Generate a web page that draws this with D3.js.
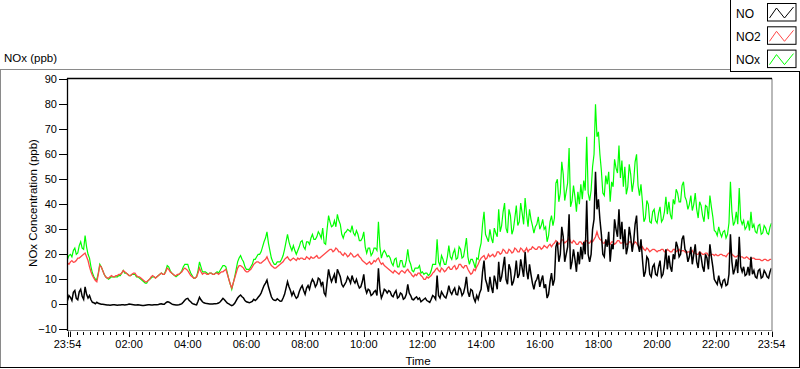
<!DOCTYPE html>
<html><head><meta charset="utf-8">
<script src="https://cdn.jsdelivr.net/npm/d3@7"></script>
<style>
html,body{margin:0;padding:0;background:#fff;}
svg{display:block;font-family:"Liberation Sans",Arial,sans-serif;}
</style></head><body>
<svg id="chart" width="800" height="369"></svg>
<script>
// ---- data ----
const startTime = new Date(2000, 0, 1, 23, 54);
const stepMinutes = 3;
const seriesNames = ["NO", "NO2", "NOx"];
const yTicks = [-10, 0, 10, 20, 30, 40, 50, 60, 70, 80, 90];
const yTitle = "NOx Concentration (ppb)";
const xTitle = "Time";
const chartTitle = "NOx (ppb)";

const NO = [
1.5,3.5,2.8,1.5,4.8,5.5,2.4,1.8,5.0,6.0,3.2,2.0,7.0,4.0,2.5,3.5,1.8,0.8,0.6,0.2,
0.8,0.4,0.2,0.0,0.0,-0.1,-0.2,-0.3,-0.3,-0.4,-0.3,-0.2,-0.2,-0.3,-0.4,-0.3,-0.3,-0.2,-0.2,-0.3,
-0.2,-0.1,0.1,0.0,-0.1,-0.2,-0.3,-0.3,-0.2,-0.3,-0.4,-0.5,-0.5,-0.4,-0.3,-0.2,-0.2,-0.3,-0.3,-0.2,
-0.2,-0.2,-0.1,0.1,0.2,0.0,0.0,0.6,1.0,0.9,0.6,0.2,-0.1,-0.2,-0.3,-0.3,-0.2,0.0,0.3,0.9,
1.6,2.2,2.4,1.5,1.0,0.4,0.1,-0.1,-0.2,1.2,2.8,1.8,1.0,0.6,0.4,0.3,0.2,0.1,0.1,0.1,
0.2,0.2,0.3,0.5,0.9,1.6,2.4,1.8,1.1,0.5,0.2,-0.2,-0.5,-0.2,0.4,1.5,2.5,3.2,3.7,3.0,
2.5,1.5,1.0,0.8,0.6,0.9,1.2,2.0,1.5,2.0,2.8,3.5,4.5,6.0,7.5,8.5,9.7,7.0,5.0,3.0,
2.0,1.6,1.5,2.2,1.7,1.2,1.3,2.5,4.0,6.5,9.0,7.0,5.5,3.5,5.0,3.5,2.4,3.0,5.0,6.5,
7.5,5.5,4.0,6.5,7.5,6.0,8.5,10.0,9.0,7.0,8.0,10.5,10.0,7.5,9.0,4.5,3.5,9.0,14.0,11.0,
9.0,10.5,12.0,8.5,14.0,12.5,11.0,8.0,7.0,8.0,9.0,11.0,10.0,8.5,11.5,9.5,8.5,10.0,8.0,6.5,
7.0,9.0,12.0,6.5,4.5,6.0,5.5,3.5,4.0,5.0,5.5,3.5,14.4,6.0,2.5,4.0,6.0,5.5,4.5,5.5,
5.0,3.5,3.0,4.5,5.5,2.5,3.0,4.5,4.0,2.0,2.5,4.0,8.0,4.5,3.5,2.0,1.8,2.5,3.0,2.0,
2.5,1.0,1.5,2.0,2.5,1.5,1.2,0.8,2.0,3.5,3.0,2.0,11.5,3.5,2.5,5.0,4.0,3.0,2.5,4.5,
7.5,5.0,4.0,5.5,6.5,4.0,3.8,7.0,6.0,3.5,4.5,7.0,11.0,5.0,3.0,6.0,5.5,2.5,1.0,3.5,
2.0,4.5,6.0,13.0,17.5,10.0,8.0,5.0,11.0,7.0,4.5,11.5,9.0,6.0,17.0,9.0,11.0,15.0,19.0,10.0,
8.0,16.0,14.0,7.5,9.0,12.0,17.5,10.5,12.0,18.0,14.5,11.0,21.0,13.5,10.0,16.0,12.0,8.5,6.0,9.0,
10.0,12.0,7.0,9.5,11.5,6.5,8.0,2.5,4.0,9.0,12.5,7.5,10.0,23.0,25.0,17.0,20.0,31.0,27.0,17.0,
20.0,23.0,36.0,14.0,17.0,22.0,18.0,13.0,21.0,16.0,23.0,18.0,25.0,20.0,41.5,20.0,17.0,20.0,30.0,34.0,
53.0,38.0,42.0,34.0,28.0,20.0,19.0,26.0,23.0,29.0,17.0,24.0,22.0,34.0,30.0,27.0,38.0,26.0,33.0,22.0,
30.0,20.0,23.0,31.0,27.0,21.0,25.0,32.0,35.5,24.0,21.0,26.0,18.0,11.0,13.0,19.0,18.0,12.0,11.0,15.0,
16.0,12.0,11.5,15.0,17.5,11.0,12.0,16.0,22.0,14.0,19.5,15.0,13.0,20.0,18.0,25.0,23.0,19.0,20.0,26.0,
27.5,22.0,21.0,17.0,19.0,23.0,16.0,20.0,24.0,17.0,14.5,21.0,19.0,15.0,13.0,20.0,18.5,14.0,24.0,19.0,
15.0,10.0,9.0,8.0,11.5,8.5,7.0,9.5,10.0,7.5,8.0,12.0,28.0,17.0,12.0,14.0,18.0,12.5,27.0,15.0,
13.0,15.0,11.5,12.0,15.0,11.5,19.0,12.0,13.5,11.0,10.5,13.5,14.0,10.5,11.0,13.5,12.5,11.0,10.5,13.0,14.5
];

const NO2 = [
16.5,16.0,17.0,17.5,16.8,17.0,17.5,18.5,18.5,19.0,19.5,20.0,20.5,19.0,17.5,15.0,13.0,11.5,10.5,9.5,
9.0,12.0,15.5,15.0,13.5,12.0,11.0,10.5,10.5,11.0,11.5,11.0,11.0,11.5,11.5,12.0,12.0,12.5,13.5,13.0,
12.5,12.0,11.5,11.5,12.0,12.5,12.5,11.5,11.0,11.0,10.5,10.0,9.5,9.0,9.0,9.5,10.0,11.0,11.5,11.0,
10.5,11.0,11.5,12.0,12.5,12.0,12.0,13.0,14.5,14.0,13.0,12.5,12.0,11.5,11.5,12.0,12.0,12.5,13.0,14.0,
14.5,14.0,13.5,12.5,11.5,11.0,10.5,10.5,11.0,12.5,14.5,13.0,12.0,12.5,12.5,12.0,12.0,12.5,12.5,12.0,
12.0,12.5,12.5,12.0,12.5,13.0,13.0,13.5,14.0,12.0,10.0,8.0,6.5,8.5,10.5,12.5,14.5,15.5,15.5,15.0,
14.5,13.5,13.0,13.0,13.5,14.0,15.0,16.0,16.5,17.0,17.0,16.5,16.5,17.0,17.5,18.0,19.0,17.5,16.5,15.5,
15.0,14.5,14.5,15.0,15.5,16.0,16.5,17.0,18.0,18.5,19.0,18.0,17.5,18.0,18.5,18.0,17.5,18.5,18.0,18.5,
18.5,18.0,18.0,19.0,18.5,18.0,19.0,18.5,18.5,19.0,19.5,18.5,18.5,19.0,19.5,20.0,20.5,21.0,21.5,22.0,
22.0,21.0,21.5,22.5,22.0,21.0,21.0,20.0,19.5,20.5,20.0,19.0,19.5,20.5,20.0,19.0,19.0,19.5,20.0,19.0,
18.5,17.5,17.0,16.5,16.0,16.5,17.0,16.0,16.5,17.5,17.0,18.0,18.5,17.0,16.0,16.5,15.5,15.0,14.5,14.0,
13.5,13.0,12.5,13.5,13.0,12.5,12.0,13.0,13.5,13.0,12.5,13.5,14.0,13.0,12.5,11.5,11.0,12.0,11.5,12.5,
12.5,11.5,11.0,10.0,10.0,11.0,10.5,11.0,11.5,12.5,13.0,14.0,14.5,13.5,13.0,14.5,14.0,13.0,13.5,14.5,
15.0,14.0,14.0,15.0,15.5,14.0,14.5,16.0,16.0,15.0,14.5,15.5,15.5,14.0,13.0,12.0,12.5,14.0,13.5,15.0,
16.0,17.5,18.5,19.0,19.5,18.0,18.5,20.0,19.0,19.5,20.0,19.0,19.5,21.0,21.0,20.0,20.5,22.0,21.5,20.5,
20.5,22.0,21.5,20.5,21.0,22.5,22.0,21.0,21.0,22.5,22.0,21.0,21.5,22.5,21.0,22.0,22.0,23.0,22.5,22.0,
22.0,23.0,23.0,22.0,22.5,23.5,23.0,22.5,23.5,24.0,23.0,24.0,24.5,25.5,25.0,24.0,24.5,26.0,25.5,24.5,
25.0,25.5,26.5,25.0,24.5,25.5,25.0,24.0,24.0,25.0,25.0,24.0,24.5,25.5,25.5,24.5,24.5,25.5,25.0,26.0,
27.0,29.0,27.0,26.0,25.5,24.5,24.5,25.5,25.0,24.0,24.0,25.0,25.0,24.0,24.5,25.5,25.5,24.5,24.5,25.0,
25.0,24.0,24.0,25.0,25.0,24.0,24.0,25.0,24.5,23.5,22.5,22.0,23.0,22.0,21.5,22.5,22.0,21.0,21.5,22.0,
22.0,21.5,21.0,21.5,21.5,22.0,22.0,21.0,21.0,22.0,21.5,21.0,21.0,22.0,22.0,21.0,21.5,22.0,21.0,21.5,
21.5,21.0,20.5,21.0,21.0,20.5,21.5,20.5,20.5,20.0,20.0,21.0,20.5,20.0,20.0,20.5,20.5,19.5,19.5,20.0,
20.0,19.5,20.0,19.5,19.5,20.0,20.0,19.5,19.5,19.0,20.0,20.5,21.0,20.0,19.5,19.0,19.0,19.5,19.5,19.0,
19.0,18.5,18.5,19.0,18.5,18.0,18.0,18.5,18.5,18.0,18.0,18.0,18.0,17.5,17.5,18.0,18.0,17.5,17.5,18.0,18.0
];

const NOx = [
18.0,19.5,20.0,19.0,21.5,22.5,20.0,20.5,23.5,25.0,22.5,22.0,27.5,23.0,20.0,18.5,15.0,12.5,11.0,10.0,
10.0,12.5,16.0,15.0,13.5,12.0,11.0,10.5,10.0,10.5,11.0,11.0,11.0,11.0,11.0,11.5,11.5,12.5,13.5,12.5,
12.5,12.0,11.5,11.5,12.0,12.0,12.0,11.0,11.0,10.5,10.0,9.5,9.0,8.5,8.5,9.5,10.0,10.5,11.0,11.0,
10.5,11.0,11.5,12.0,12.5,12.0,12.0,13.5,15.5,15.0,13.5,12.5,12.0,11.5,11.0,11.5,12.0,12.5,13.5,15.0,
16.0,16.0,16.0,14.0,12.5,11.5,10.5,10.5,11.0,13.5,17.0,15.0,13.0,13.0,13.0,12.5,12.0,12.5,12.5,12.0,
12.0,12.5,13.0,12.5,13.5,14.5,15.5,15.5,15.0,12.5,10.0,8.0,6.0,8.5,11.0,14.0,17.0,18.5,19.5,18.0,
17.0,15.0,14.0,14.0,14.0,15.0,16.0,18.0,18.0,19.0,20.0,20.0,21.0,23.0,25.0,26.5,29.0,24.5,21.5,18.5,
17.0,16.0,16.0,17.0,17.0,17.0,18.0,19.5,22.0,25.0,28.0,25.0,23.0,21.5,23.5,21.5,20.0,21.5,23.0,25.0,
25.5,23.0,22.0,25.0,25.0,24.0,26.5,28.0,26.0,26.0,27.0,29.0,28.0,26.5,30.5,24.5,24.0,30.0,35.5,33.0,
31.0,31.5,33.5,31.0,36.0,33.5,32.0,28.0,26.5,28.5,29.0,30.0,29.5,29.0,31.5,28.5,27.5,29.5,28.0,25.5,
25.5,26.5,29.0,23.0,20.5,22.5,22.5,19.5,20.5,22.5,22.5,21.5,33.0,23.0,18.5,20.5,21.5,20.5,19.0,19.5,
18.5,16.5,15.5,18.0,18.5,15.0,15.0,17.5,17.5,15.0,15.0,17.5,22.0,17.5,16.0,13.5,13.0,14.5,14.5,14.5,
15.5,12.5,13.0,12.0,12.5,12.5,11.5,12.0,13.5,16.0,16.0,16.0,26.0,17.0,15.5,19.5,18.0,16.0,16.0,19.0,
23.5,19.0,18.0,20.5,22.0,18.0,18.5,23.0,22.0,18.5,19.0,22.5,26.5,19.0,16.0,18.0,18.0,16.5,14.5,18.5,
18.0,22.0,24.5,32.0,37.0,28.0,26.5,25.0,30.0,26.5,24.5,30.5,28.5,27.0,38.0,29.0,31.5,37.0,40.5,30.5,
28.5,38.0,35.5,28.0,30.0,34.5,39.5,31.5,33.0,40.5,36.5,32.0,42.5,36.0,31.0,38.0,34.0,31.5,28.5,31.0,
32.0,35.0,30.0,31.5,34.0,30.0,31.0,25.0,27.5,33.0,35.5,31.5,34.5,48.5,50.0,41.0,44.5,57.0,52.0,41.5,
45.0,48.5,62.5,39.0,41.5,47.5,43.0,37.0,45.0,40.0,48.0,42.0,49.5,45.5,67.0,44.5,41.5,45.5,55.0,60.0,
80.0,67.0,69.0,60.0,53.5,44.5,43.5,51.5,48.0,53.0,41.0,49.0,47.0,58.0,54.5,52.5,63.5,50.5,57.5,47.0,
55.0,44.0,47.0,56.0,52.0,45.0,49.0,57.0,60.0,47.5,43.5,48.0,41.0,33.0,34.5,41.5,40.0,33.0,32.5,37.0,
38.0,33.5,32.5,36.5,39.0,33.0,34.0,37.0,43.0,36.0,41.0,36.0,34.0,42.0,40.0,46.0,44.5,41.0,41.0,47.5,
49.0,43.0,41.5,38.0,40.0,43.5,37.5,40.0,44.5,38.0,34.5,41.0,39.5,35.5,33.0,39.5,39.0,34.0,43.5,39.0,
35.0,29.5,29.0,27.5,31.0,28.5,27.0,29.0,29.5,26.5,28.0,32.5,49.0,37.0,31.5,33.0,37.0,32.0,46.5,34.0,
32.0,33.5,30.0,31.0,33.5,29.5,37.0,30.5,32.0,29.0,28.5,31.5,32.0,28.0,28.5,31.5,30.5,28.5,28.0,31.0,32.5
];

// ---- layout / style ----
const W = 800, H = 369;
const plot = {left: 67.5, right: 771.5, top: 79, bottom: 330};
const colors = {NO: "#000000", NO2: "#ff4848", NOx: "#00ff00"};
const widths = {NO: 1.5, NO2: 1.3, NOx: 1.2};

const svg = d3.select("#chart");
svg.append("rect").attr("width", W).attr("height", H).attr("fill", "#fff");

const endTime = d3.timeHour.offset(startTime, 24);
const times = NO.map((_, i) => d3.timeMinute.offset(startTime, i * stepMinutes));

const x = d3.scaleTime().domain([startTime, endTime]).range([plot.left, plot.right]);
const y = d3.scaleLinear().domain([-10, 90]).range([329.3, 79.3]);

// outer frame
svg.append("line").attr("x1", 0).attr("x2", 730).attr("y1", 69.5).attr("y2", 69.5).attr("stroke", "#8a8a8a");
svg.append("line").attr("x1", 0.5).attr("x2", 0.5).attr("y1", 69.5).attr("y2", 368).attr("stroke", "#8a8a8a");
svg.append("line").attr("x1", 0).attr("x2", 800).attr("y1", 367.5).attr("y2", 367.5).attr("stroke", "#000");
svg.append("line").attr("x1", 799.5).attr("x2", 799.5).attr("y1", 71).attr("y2", 368).attr("stroke", "#000");

// title
svg.append("text").attr("x", 4).attr("y", 62).attr("font-size", 11.5).attr("fill", "#000").text(chartTitle);

// clip
svg.append("clipPath").attr("id", "clip").append("rect")
  .attr("x", plot.left).attr("y", plot.top).attr("width", plot.right - plot.left).attr("height", plot.bottom - plot.top);

// series
const seriesData = {NO: NO, NO2: NO2, NOx: NOx};
const line = d3.line().x((d, i) => x(times[i])).y(d => y(d));
const g = svg.append("g").attr("clip-path", "url(#clip)");
["NOx", "NO2", "NO"].forEach(name => {
  g.append("path").datum(seriesData[name])
    .attr("d", line)
    .attr("fill", "none")
    .attr("stroke", colors[name])
    .attr("stroke-width", widths[name])
    .attr("stroke-linejoin", "miter");
});

// plot frame
svg.append("line").attr("x1", plot.left).attr("x2", 772).attr("y1", 330.5).attr("y2", 330.5).attr("stroke", "#8a8a8a");
svg.append("line").attr("x1", 772).attr("x2", 772).attr("y1", 78.5).attr("y2", 331).attr("stroke", "#8a8a8a").attr("stroke-width", 1.2);
svg.append("line").attr("x1", 67).attr("x2", 772).attr("y1", 78.5).attr("y2", 78.5).attr("stroke", "#000").attr("stroke-width", 1.3);
svg.append("line").attr("x1", 67.5).attr("x2", 67.5).attr("y1", 78).attr("y2", 331).attr("stroke", "#000").attr("stroke-width", 1.3);

// y axis
const yAxis = d3.axisLeft(y).tickValues(yTicks).tickSize(8).tickPadding(2).tickFormat(d3.format("d"));
const ya = svg.append("g").attr("transform", "translate(67,0)").call(yAxis);
ya.select(".domain").remove();
ya.selectAll(".tick line").attr("stroke", "#000").attr("shape-rendering", "crispEdges");
ya.selectAll(".tick text").attr("font-size", 11).attr("fill", "#000")
  .attr("font-family", '"Liberation Sans",Arial,sans-serif');

// x axis: major ticks every 2 h, minor every 2h/9
const majorTicks = [startTime].concat(d3.timeHour.every(2).range(startTime, endTime)).concat([endTime]);
const firstMidnight = d3.timeDay.ceil(startTime);
const minorStepMs = 2 * 3600000 / 9;
const minorTicks = d3.range(0, 200).map(k => new Date(firstMidnight.getTime() + k * minorStepMs))
  .filter(t => t <= endTime);
const xa = svg.append("g").attr("transform", "translate(0," + 331 + ")");
xa.selectAll(".minor").data(minorTicks).enter().append("line")
  .attr("x1", d => Math.round(x(d)) + 0.5).attr("x2", d => Math.round(x(d)) + 0.5)
  .attr("y1", 1).attr("y2", 4).attr("stroke", "#000");
xa.selectAll(".major").data(majorTicks).enter().append("line")
  .attr("x1", d => Math.round(x(d)) + 0.5).attr("x2", d => Math.round(x(d)) + 0.5)
  .attr("y1", 0.5).attr("y2", 6).attr("stroke", "#000");
const fmt = d3.timeFormat("%H:%M");
const labelTicks = majorTicks.filter(t => !(t.getHours() === 0 && t.getMinutes() === 0));
xa.selectAll(".lbl").data(labelTicks).enter().append("text")
  .attr("x", d => x(d)).attr("y", 17).attr("text-anchor", "middle")
  .attr("font-size", 11).attr("fill", "#000").text(d => fmt(d));

// axis titles
svg.append("text").attr("x", 418).attr("y", 365).attr("text-anchor", "middle")
  .attr("font-size", 11.5).attr("fill", "#000").text(xTitle);
svg.append("text").attr("transform", "translate(37,203) rotate(-90)").attr("text-anchor", "middle")
  .attr("font-size", 11.5).attr("fill", "#000").text(yTitle);

// legend
const lg = svg.append("g");
lg.append("rect").attr("x", 730.5).attr("y", -1).attr("width", 80).attr("height", 72.5)
  .attr("fill", "#fff").attr("stroke", "#000");
seriesNames.forEach((name, i) => {
  const top = 3.5 + i * 23.3;
  lg.append("text").attr("x", 736).attr("y", top + 14).attr("font-size", 12).attr("fill", "#000").text(name);
  lg.append("rect").attr("x", 767.5).attr("y", top).attr("width", 28.5).attr("height", 17.5)
    .attr("fill", "#fff").attr("stroke", "#000");
  lg.append("path")
    .attr("d", `M${769.5},${top + 14.5} L${776.5},${top + 4.5} L${784.5},${top + 14.5} L${793.5},${top + 3.5}`)
    .attr("fill", "none").attr("stroke", colors[name]).attr("stroke-width", 1);
});
</script>
</body></html>
